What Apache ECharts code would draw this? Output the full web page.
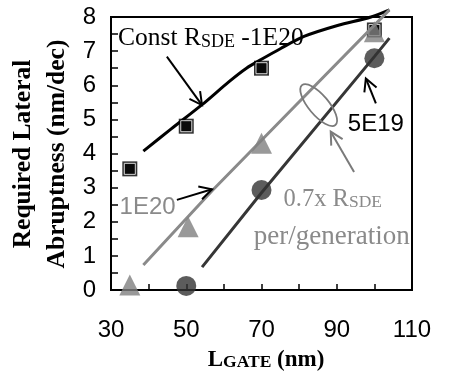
<!DOCTYPE html>
<html><head><meta charset="utf-8">
<script src="https://cdn.jsdelivr.net/npm/echarts@6/dist/echarts.min.js"></script>
<style>html,body{margin:0;padding:0;background:#fff}#c{width:453px;height:371px}</style>
</head><body><div id="c"></div>
<script>
// ---- data ----
const xTicks = [30, 50, 70, 90, 110];
const yTicks = [0, 1, 2, 3, 4, 5, 6, 7, 8];
const constSquares = [[35, 3.55], [50, 4.8], [70, 6.5], [100, 7.62]];
const constCurve = [[38.6, 4.07], [46, 4.72], [54.2, 5.43], [61.3, 6.1], [66, 6.5], [70, 6.76], [75, 7.07], [81.3, 7.43], [90.2, 7.75], [99.1, 8.0], [104, 8.21]];
const e20Triangles = [[35, 0.15], [50.5, 1.85], [70, 4.3], [100, 7.57]];
const e20Line = [[38.6, 0.73], [56.8, 2.9], [81.2, 5.65], [104, 8.21]];
const e19Circles = [[50, 0.12], [70, 2.93], [100, 6.79]];
const e19Line = [[54.2, 0.67], [70, 2.85], [100, 6.84], [104, 7.38]];
// annotation anchors in data coordinates
const arrowConst = [[44.85, 6.84], [54.19, 5.42]];
const arrowE20 = [[47.52, 2.64], [56.85, 2.95]];
const arrowE19 = [[100.4, 5.47], [97.73, 6.2]];
const arrowScale = [[94.6, 3.46], [88.4, 4.64]];
const ellipseAt = [85.2, 5.42];
const labelConstAt = [31.87, 7.37];
const label1E20At = [39.73, 2.42];
const label5E19At = [100.4, 4.86];
const labelScale1At = [75.87, 2.65];
const labelScale2At = [88.67, 1.55];

const GRAY = '#8a8a8a';
const DARK = '#363636';
const SERIF = '"Liberation Serif", "Times New Roman", serif';
const SANS = '"Liberation Sans", Arial, sans-serif';

const chart = echarts.init(document.getElementById('c'));
const option = {
  animation: false,
  grid: { left: 111, top: 17, right: 41, bottom: 81, show: true, borderColor: '#000', borderWidth: 2 },
  xAxis: {
    type: 'value', min: 30, max: 110, interval: 10,
    axisLine: { show: true, lineStyle: { color: '#000', width: 2 } },
    axisTick: { show: true, inside: true, length: 6, lineStyle: { color: '#000', width: 1.5 } },
    splitLine: { show: false },
    axisLabel: { margin: 28, color: '#000', fontFamily: SANS, fontSize: 24,
      formatter: v => xTicks.includes(v) ? String(v) : '' }
  },
  yAxis: {
    type: 'value', min: 0, max: 8, interval: 0.5,
    axisLine: { show: true, lineStyle: { color: '#000', width: 2 } },
    axisTick: { show: true, inside: true, length: 7, lineStyle: { color: '#000', width: 1.5 } },
    splitLine: { show: false },
    axisLabel: { margin: 15, color: '#000', fontFamily: SANS, fontSize: 24, padding: [4, 0, 0, 0],
      formatter: v => yTicks.includes(v) ? String(v) : '' }
  },
  series: [
    { type: 'line', data: constCurve, smooth: 0.3, showSymbol: false, clip: false,
      lineStyle: { color: '#000', width: 3 }, z: 2 },
    { type: 'scatter', data: constSquares, symbol: 'rect', symbolSize: 15, clip: false,
      itemStyle: { color: '#000' }, z: 3 },
    { type: 'scatter', data: constSquares, symbol: 'rect', symbolSize: 11, clip: false,
      itemStyle: { color: '#000', borderColor: '#fff', borderWidth: 1 }, z: 3 },
    { type: 'line', data: e20Line, showSymbol: false, clip: false,
      lineStyle: { color: GRAY, width: 3 }, z: 4 },
    { type: 'scatter', data: e20Triangles, symbol: 'triangle', symbolSize: 21, clip: false,
      itemStyle: { color: '#808080' }, z: 5 },
    { type: 'line', data: e19Line, showSymbol: false, clip: false,
      lineStyle: { color: DARK, width: 3 }, z: 4 },
    { type: 'scatter', data: e19Circles, symbol: 'circle', symbolSize: 20, clip: false,
      itemStyle: { color: '#333' }, z: 5 }
  ]
};
chart.setOption(option);

const px = p => chart.convertToPixel({ gridIndex: 0 }, p);
function arrow(pts, color) {
  const a = px(pts[0]), b = px(pts[1]);
  const ang = Math.atan2(a[1] - b[1], a[0] - b[0]);
  const L = 14, h = 28 * Math.PI / 180;
  const w1 = [b[0] + L * Math.cos(ang + h), b[1] + L * Math.sin(ang + h)];
  const w2 = [b[0] + L * Math.cos(ang - h), b[1] + L * Math.sin(ang - h)];
  return [
    { type: 'line', shape: { x1: a[0], y1: a[1], x2: b[0], y2: b[1] }, style: { stroke: color, lineWidth: 2 }, z: 10 },
    { type: 'polyline', shape: { points: [w1, b, w2] }, style: { stroke: color, lineWidth: 2, fill: null }, z: 10 }
  ];
}
function txt(at, text, rich, align) {
  const p = px(at);
  return { type: 'text', x: p[0], y: p[1], z: 10,
    style: { text: text, rich: rich, align: align, verticalAlign: 'middle' } };
}
const e = px(ellipseAt);
const graphics = [].concat(
  arrow(arrowConst, '#000'), arrow(arrowE20, '#000'), arrow(arrowE19, '#000'), arrow(arrowScale, '#7a7a7a'),
  [
    { type: 'ellipse', x: e[0], y: e[1], rotation: -50 * Math.PI / 180, shape: { cx: 0, cy: 0, rx: 26, ry: 10 },
      style: { fill: null, stroke: '#7a7a7a', lineWidth: 1.8 }, z: 10 },
    txt(labelConstAt, '{m|Const R}{s|SDE}{m| -1E20}', {
      m: { fontFamily: SERIF, fontSize: 25.5, fill: '#000', lineHeight: 25 },
      s: { fontFamily: SERIF, fontSize: 18, fill: '#000', lineHeight: 12, verticalAlign: 'bottom' } }, 'left'),
    txt(label1E20At, '{a|1E20}', { a: { fontFamily: SANS, fontSize: 24, fill: GRAY } }, 'center'),
    txt(label5E19At, '{a|5E19}', { a: { fontFamily: SANS, fontSize: 24, fill: '#000' } }, 'center'),
    txt(labelScale1At, '{m|0.7x R}{s|SDE}', {
      m: { fontFamily: SERIF, fontSize: 24.5, fill: GRAY, lineHeight: 24 },
      s: { fontFamily: SERIF, fontSize: 17.5, fill: GRAY, lineHeight: 12, verticalAlign: 'bottom' } }, 'left'),
    txt(labelScale2At, '{m|per/generation}', { m: { fontFamily: SERIF, fontSize: 27, fill: GRAY } }, 'center'),
    { type: 'text', x: 40, y: 154, rotation: Math.PI / 2, z: 10,
      style: { text: 'Required Lateral\nAbruptness (nm/dec)', fontFamily: SERIF, fontWeight: 'bold', fontSize: 25.5,
        lineHeight: 34, fill: '#000', align: 'center', verticalAlign: 'middle' } },
    { type: 'text', x: 266, y: 360, z: 10,
      style: { text: '{m|L}{s|GATE}{m| (nm)}', align: 'center', verticalAlign: 'middle',
        rich: { m: { fontFamily: SERIF, fontWeight: 'bold', fontSize: 23, fill: '#000', lineHeight: 23 },
                s: { fontFamily: SERIF, fontWeight: 'bold', fontSize: 17.5, fill: '#000', lineHeight: 14, verticalAlign: 'bottom' } } } }
  ]
);
chart.setOption({ graphic: graphics });
</script>
</body></html>
